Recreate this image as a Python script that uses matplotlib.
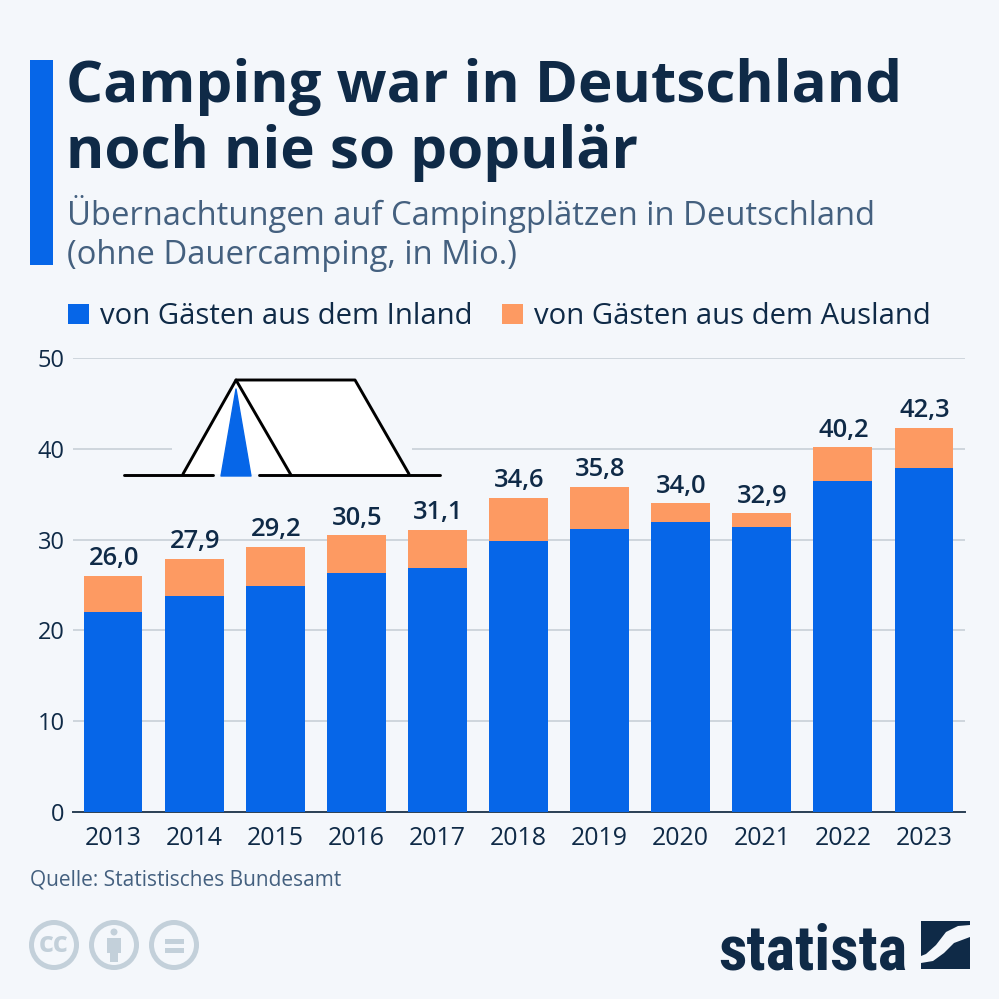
import matplotlib
matplotlib.use("Agg")
import matplotlib.pyplot as plt
from matplotlib.patches import Rectangle, Polygon, Circle

years = [2013, 2014, 2015, 2016, 2017, 2018, 2019, 2020, 2021, 2022, 2023]
totals = [26.0, 27.9, 29.2, 30.5, 31.1, 34.6, 35.8, 34.0, 32.9, 40.2, 42.3]
inland = [22.0, 23.8, 24.9, 26.3, 26.9, 29.9, 31.2, 31.9, 31.4, 36.4, 37.9]
ausland = [t - i for t, i in zip(totals, inland)]
yticks = [0, 10, 20, 30, 40, 50]
title_lines = ["Camping war in Deutschland", "noch nie so populär"]
subtitle_lines = ["Übernachtungen auf Campingplätzen in Deutschland", "(ohne Dauercamping, in Mio.)"]
legend_labels = ["von Gästen aus dem Inland", "von Gästen aus dem Ausland"]
source = "Quelle: Statistisches Bundesamt"

BG = "#f4f7fb"
BLUE = "#0666e8"
ORANGE = "#fd9a62"
NAVY = "#0f2a47"
SLATE = "#44607f"
GRID = "#c8d0d8"
CC = "#c3d0da"
W = 999

plt.rcParams["font.family"] = ["Open Sans", "DejaVu Sans"]
fig = plt.figure(figsize=(9.99, 9.99), dpi=100, facecolor=BG)

ax = fig.add_axes([73 / W, 1 - 812 / W, (965 - 73) / W, (812 - 358) / W], facecolor="none")
ax.set_xlim(2013 - 40 / 81.1, 2023 + 41 / 81.1)
ax.set_ylim(0, 50)
ax.bar(years, inland, width=59 / 81.1, color=BLUE, zorder=3)
ax.bar(years, ausland, bottom=inland, width=59 / 81.1, color=ORANGE, zorder=3)
for x, t in zip(years, totals):
    ax.annotate(f"{t:.1f}".replace(".", ","), (x + 0.01, t), xytext=(0, 3.2), textcoords="offset points",
                ha="center", va="bottom", fontsize=18.4, fontweight="semibold", color=NAVY, zorder=4)
ax.set_yticks(yticks)
ax.set_xticks(years)
ax.set_xticklabels([str(y) for y in years])
ax.grid(axis="y", color=GRID, lw=1.2, zorder=0)
ax.set_axisbelow(True)
ax.tick_params(axis="y", length=0, pad=6, labelsize=17, labelcolor=NAVY)
ax.tick_params(axis="x", length=0, pad=10, labelsize=17.9, labelcolor=NAVY)
for s in ["top", "left", "right"]:
    ax.spines[s].set_visible(False)
ax.spines["bottom"].set_color("#2a3f55")
ax.spines["bottom"].set_linewidth(1.4)

ov = fig.add_axes([0, 0, 1, 1], facecolor="none")
ov.set_xlim(0, W)
ov.set_ylim(W, 0)
ov.axis("off")

# accent bar
ov.add_patch(Rectangle((30, 60), 23, 205, color=BLUE, lw=0))

# headline
ov.text(66, 87.5, title_lines[0], fontsize=42, fontweight="bold", color=NAVY, va="center", ha="left")
ov.text(66, 153, title_lines[1], fontsize=42, fontweight="bold", color=NAVY, va="center", ha="left")
ov.text(67, 214, subtitle_lines[0], fontsize=23.55, color=SLATE, va="center", ha="left")
ov.text(67, 255, subtitle_lines[1], fontsize=23.55, color=SLATE, va="center", ha="left")

# legend
ov.add_patch(Rectangle((68, 304), 21, 20, color=BLUE, lw=0))
ov.text(100, 316, legend_labels[0], fontsize=21.05, color=NAVY, va="center", ha="left")
ov.add_patch(Rectangle((502, 304), 21, 20, color=ORANGE, lw=0))
ov.text(534.5, 316, legend_labels[1], fontsize=21.05, color=NAVY, va="center", ha="left")

# tent
ov.add_patch(Rectangle((172, 440), 240, 20, color=BG, lw=0, zorder=1))
ov.add_patch(Polygon([(182, 474), (236, 380), (355, 380), (409, 474)], closed=True, fc="white", ec="none", zorder=2))
k = dict(color="black", lw=2.1, solid_capstyle="round", zorder=3)
ov.plot([183, 236, 355, 409], [474, 380, 380, 474], **k)
ov.plot([236, 291], [380, 475], **k)
ov.plot([124, 213], [475, 475], **k)
ov.plot([259, 440], [475, 475], **k)
ov.add_patch(Polygon([(236, 389), (221, 476), (251, 476)], closed=True, fc=BLUE, ec=BLUE, lw=1, joinstyle="round", zorder=4))

# source
ov.text(30, 880, source, fontsize=15, color=SLATE, va="center", ha="left")

# licence icons
for cx in (54, 114, 174):
    ov.add_patch(Circle((cx, 945), 22.5, fc="none", ec=CC, lw=3.6))
ov.text(54, 945, "cc", fontsize=21, fontweight="bold", color=CC, ha="center", va="center", family="Open Sans")
ov.add_patch(Circle((114, 932), 3.5, color=CC, lw=0))
ov.add_patch(Rectangle((107, 938), 14, 15, color=CC, lw=0))
ov.add_patch(Rectangle((110, 950), 8, 12, color=CC, lw=0))
ov.add_patch(Rectangle((165, 939), 19, 4.5, color=CC, lw=0))
ov.add_patch(Rectangle((165, 948), 19, 4.5, color=CC, lw=0))

# brand
ov.text(718.5, 969, "statista", fontsize=45, fontweight="bold", color=NAVY, ha="left", va="baseline",
        family=["Liberation Sans Narrow", "Roboto Condensed", "Roboto"])
ov.add_patch(Polygon([(921, 921), (970, 921), (970, 925), (958, 926), (946, 932), (936, 945), (926, 954), (921, 956)],
                     closed=True, fc=NAVY, ec="none"))
ov.add_patch(Polygon([(970, 937), (970, 969), (921, 969), (921, 963), (933, 961), (944, 953), (954, 943)],
                     closed=True, fc=NAVY, ec="none"))

fig.savefig("out.png", dpi=100, facecolor=BG)
